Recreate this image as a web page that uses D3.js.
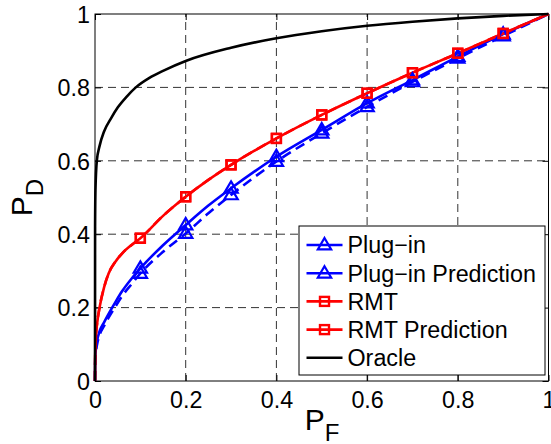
<!DOCTYPE html>
<html>
<head>
<meta charset="utf-8">
<script src="https://cdn.jsdelivr.net/npm/d3@7/dist/d3.min.js"></script>
<style>
  html, body { margin: 0; padding: 0; background: #fff; }
  svg { display: block; font-family: "Liberation Sans", Arial, Helvetica, sans-serif; }
</style>
</head>
<body>
<svg id="chart" width="551" height="444"></svg>
<script>
// False-alarm probability grid shared by the detector curves
const pfGrid = [0, 0.0005, 0.002, 0.005, 0.01, 0.02, 0.03, 0.045, 0.06, 0.08, 0.1,
                0.15, 0.2, 0.25, 0.3, 0.4, 0.5, 0.6, 0.7, 0.8, 0.9, 1];

// Detection probability for each detector
const plugIn       = [0, 0.06, 0.088, 0.112, 0.135, 0.16, 0.183, 0.215, 0.245, 0.278, 0.307,
                      0.37, 0.425, 0.478, 0.525, 0.611, 0.684, 0.757, 0.82, 0.884, 0.945, 1];
const plugInPred   = [0, 0.05, 0.078, 0.102, 0.125, 0.15, 0.173, 0.203, 0.232, 0.263, 0.293,
                      0.352, 0.402, 0.457, 0.507, 0.598, 0.675, 0.747, 0.815, 0.879, 0.94, 1];
const rmt          = [0, 0.07, 0.12, 0.16, 0.2, 0.255, 0.293, 0.325, 0.348, 0.37, 0.389,
                      0.45, 0.502, 0.548, 0.589, 0.661, 0.725, 0.784, 0.84, 0.893, 0.947, 1];
const rmtPred      = [0, 0.07, 0.12, 0.16, 0.2, 0.255, 0.293, 0.325, 0.348, 0.37, 0.389,
                      0.45, 0.502, 0.548, 0.589, 0.661, 0.725, 0.784, 0.84, 0.893, 0.947, 1];

// Oracle detector has its own grid (steeper near the origin)
const pfOracle = [0, 0.0002, 0.001, 0.004, 0.01, 0.02, 0.035, 0.05, 0.07, 0.09, 0.12,
                  0.15, 0.2, 0.3, 0.4, 0.5, 0.6, 0.7, 0.8, 0.9, 1];
const oracle   = [0, 0.42, 0.52, 0.6, 0.64, 0.68, 0.715, 0.745, 0.775, 0.8, 0.826,
                  0.845, 0.872, 0.908, 0.934, 0.953, 0.968, 0.979, 0.988, 0.995, 1];

// Markers are placed at these false-alarm levels
const markerPf = [0.1, 0.2, 0.3, 0.4, 0.5, 0.6, 0.7, 0.8, 0.9];

const xTicks = [0, 0.2, 0.4, 0.6, 0.8, 1];
const yTicks = [0, 0.2, 0.4, 0.6, 0.8, 1];
const tickLabels = ["0", "0.2", "0.4", "0.6", "0.8", "1"];

const legendLabels = ["Plug\u2212in", "Plug\u2212in Prediction", "RMT", "RMT Prediction", "Oracle"];

const svg = d3.select("#chart");
const pLeft = 95, pRight = 548.5, pTop = 14, pBottom = 381;
const FONT = 23.3;

const x = d3.scaleLinear().domain([0, 1]).range([pLeft, pRight]);
const y = d3.scaleLinear().domain([0, 1]).range([pBottom, pTop]);

const BLUE = "#0000ff", RED = "#ff0000";

// Grid
const grid = svg.append("g").attr("stroke", "#333").attr("stroke-width", 1)
  .attr("stroke-dasharray", "8,5");
xTicks.slice(1, -1).forEach(t => grid.append("line")
  .attr("x1", x(t)).attr("x2", x(t)).attr("y1", pBottom).attr("y2", pTop));
yTicks.slice(1, -1).forEach(t => grid.append("line")
  .attr("x1", pLeft).attr("x2", pRight).attr("y1", y(t)).attr("y2", y(t)));

// Axes with inward ticks on all four sides
const fmt = (d, i) => tickLabels[i];
const tickLen = 6;
const axB = svg.append("g").attr("transform", `translate(0,${pBottom})`)
  .call(d3.axisBottom(x).tickValues(xTicks).tickFormat(fmt).tickSizeInner(-tickLen).tickSizeOuter(0).tickPadding(10.5));
const axL = svg.append("g").attr("transform", `translate(${pLeft},0)`)
  .call(d3.axisLeft(y).tickValues(yTicks).tickFormat(fmt).tickSizeInner(-tickLen).tickSizeOuter(0).tickPadding(5));
const axT = svg.append("g").attr("transform", `translate(0,${pTop})`)
  .call(d3.axisTop(x).tickValues(xTicks).tickFormat("").tickSizeInner(-tickLen).tickSizeOuter(0));
const axR = svg.append("g").attr("transform", `translate(${pRight},0)`)
  .call(d3.axisRight(y).tickValues(yTicks).tickFormat("").tickSizeInner(-tickLen).tickSizeOuter(0));
[axB, axL, axT, axR].forEach(a => {
  a.select(".domain").remove();
  a.selectAll("line").attr("stroke", "#000");
  a.selectAll("text").attr("font-size", FONT).attr("fill", "#000")
    .attr("font-family", "Liberation Sans, Arial, sans-serif");
});
axL.selectAll("text").attr("dy", "0.36em");

// Box
svg.append("rect").attr("x", pLeft).attr("y", pTop).attr("width", pRight - pLeft)
  .attr("height", pBottom - pTop).attr("fill", "none").attr("stroke", "#000").attr("stroke-width", 1);

// Curves
const line = d3.line().x(d => x(d[0])).y(d => y(d[1])).curve(d3.curveMonotoneX);
const zip = (xs, ys) => xs.map((v, i) => [v, ys[i]]);

const series = [
  { pf: pfGrid, pd: plugIn, color: BLUE, dash: null, marker: "tri" },
  { pf: pfGrid, pd: plugInPred, color: BLUE, dash: "10,6", marker: "tri" },
  { pf: pfGrid, pd: rmt, color: RED, dash: null, marker: "sq" },
  { pf: pfGrid, pd: rmtPred, color: RED, dash: "10,6", marker: "sq" },
  { pf: pfOracle, pd: oracle, color: "#000", dash: null, marker: null }
];

function drawMarker(g, type, cx, cy, color) {
  if (type === "tri") {
    const s = 7;
    g.append("path")
      .attr("d", `M${cx},${cy - s} L${cx + s * 0.95},${cy + s * 0.62} L${cx - s * 0.95},${cy + s * 0.62} Z`)
      .attr("fill", "none").attr("stroke", color).attr("stroke-width", 2.2);
  } else if (type === "sq") {
    const s = 4.5;
    g.append("rect").attr("x", cx - s).attr("y", cy - s).attr("width", 2 * s).attr("height", 2 * s)
      .attr("fill", "none").attr("stroke", color).attr("stroke-width", 2.4);
  }
}

const plot = svg.append("g");
series.forEach(s => {
  plot.append("path").datum(zip(s.pf, s.pd)).attr("d", line)
    .attr("fill", "none").attr("stroke", s.color).attr("stroke-width", 2.6)
    .attr("stroke-dasharray", s.dash);
});
series.forEach(s => {
  if (!s.marker) return;
  markerPf.forEach(p => {
    const i = s.pf.findIndex(v => Math.abs(v - p) < 1e-9);
    drawMarker(plot, s.marker, x(s.pf[i]), y(s.pd[i]), s.color);
  });
});

// Legend
const lg = svg.append("g");
const lx = 299, ly = 226, lw = 246, lh = 149;
lg.append("rect").attr("x", lx).attr("y", ly).attr("width", lw).attr("height", lh)
  .attr("fill", "#fff").attr("stroke", "#000").attr("stroke-width", 1);
series.forEach((s, i) => {
  const cy = 245 + i * 28.2;
  lg.append("line").attr("x1", 306.5).attr("x2", 342.5).attr("y1", cy).attr("y2", cy)
    .attr("stroke", s.color).attr("stroke-width", 2.6);
  if (s.marker) drawMarker(lg, s.marker, 324.5, cy, s.color);
  lg.append("text").attr("x", 347.5).attr("y", cy).attr("dy", "0.36em")
    .attr("font-size", FONT).attr("fill", "#000").text(legendLabels[i]);
});

// Axis titles
const xt = svg.append("text").attr("x", 322).attr("y", 430).attr("text-anchor", "middle")
  .attr("font-size", 30).attr("fill", "#000");
xt.append("tspan").text("P");
xt.append("tspan").attr("font-size", 24).attr("dy", 11).text("F");

const yt = svg.append("text").attr("transform", `translate(32,${(pTop + pBottom) / 2}) rotate(-90)`)
  .attr("text-anchor", "middle").attr("font-size", 30).attr("fill", "#000");
yt.append("tspan").text("P");
yt.append("tspan").attr("font-size", 24).attr("dy", 11).text("D");
</script>
</body>
</html>
